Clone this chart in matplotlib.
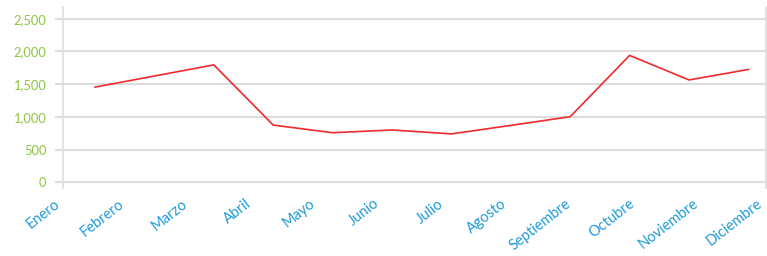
import matplotlib
matplotlib.use("Agg")
import matplotlib.pyplot as plt
import matplotlib.transforms as mtransforms

months = ["Enero", "Febrero", "Marzo", "Abril", "Mayo", "Junio", "Julio",
          "Agosto", "Septiembre", "Octubre", "Noviembre", "Diciembre"]
values = [1455, 1625, 1795, 875, 758, 800, 740, 870, 1003, 1940, 1565, 1725]
yticks = [0, 500, 1000, 1500, 2000, 2500]
ytick_labels = ["0", "500", "1,000", "1,500", "2,000", "2,500"]

plt.rcParams['font.family'] = ['Lato', 'DejaVu Sans']

W, H = 767, 256
fig = plt.figure(figsize=(W / 100, H / 100), dpi=100)
ax_left, ax_right, ax_top, ax_bot = 63, 766, 7, 188
ax = fig.add_axes([ax_left / W, 1 - ax_bot / H, (ax_right - ax_left) / W, (ax_bot - ax_top) / H])

x = list(range(len(values)))
ax.plot(x, values, color="#EE2A2C", linewidth=1.2, solid_joinstyle="miter")

ax.set_xlim(-0.539, 11.296)
ax.set_ylim(-87, 2680)

ax.set_yticks(yticks)
ax.set_yticklabels(ytick_labels)
ax.tick_params(axis="y", colors="#DDDDDD", length=6, width=1.5, pad=6,
               labelcolor="#8CC63F", labelsize=9.3)
ax.set_xticks([])
ax.grid(axis="y", color="#DDDDDD", linewidth=1.5)
ax.set_axisbelow(True)

for s in ["top", "bottom"]:
    ax.spines[s].set_visible(False)
for s in ["left", "right"]:
    ax.spines[s].set_color("#DDDDDD")
    ax.spines[s].set_linewidth(1.2)

offset = mtransforms.ScaledTranslation(-5 / 100, -14 / 100, fig.dpi_scale_trans)
n = len(months)
for j, m in enumerate(months):
    ax.text(j / (n - 1), 0, m, transform=ax.transAxes + offset,
            rotation=38, rotation_mode="anchor", ha="right", va="center",
            color="#1E9BD7", fontsize=10.5, clip_on=False)

fig.savefig("out.png", dpi=100)
